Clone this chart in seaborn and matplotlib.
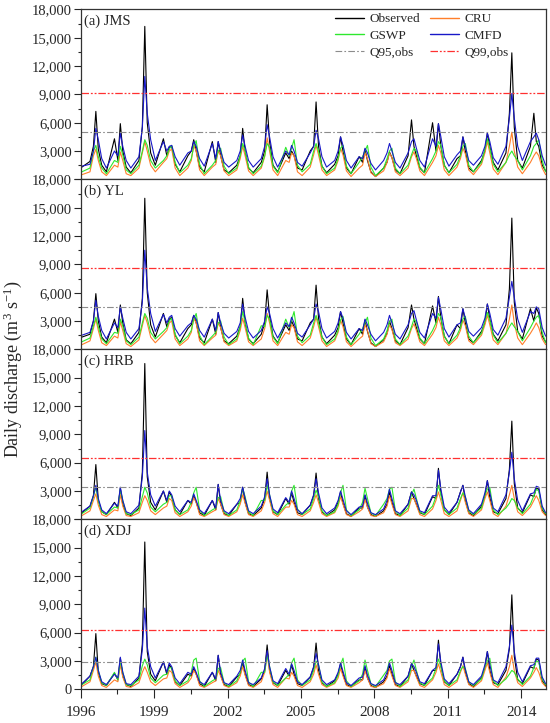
import numpy as np
import pandas as pd
import seaborn as sns
import matplotlib.pyplot as plt
from matplotlib.lines import Line2D
from matplotlib.ticker import MultipleLocator, FuncFormatter, FixedLocator

#### Data (discharge in 1000 m3/s, one row per year, columns at the offsets)

years = list(range(1996, 2015))
offsets = [0.05, 0.38, 0.52, 0.62, 0.72, 0.86]
series_names = ["Observed", "CRU", "GSWP", "CMFD"]
panel_labels = ["(a) JMS", "(b) YL", "(c) HRB", "(d) XDJ"]
q95 = [5000, 4450, 3400, 2860]
q99 = [9100, 8600, 6500, 6250]
year_ticks = [1996, 1999, 2002, 2005, 2008, 2011, 2014]

# (a) JMS
obs_a = [[1.3, 1.9, 3.5, 7.2, 3.2, 1.5], [0.8, 4.3, 2.0, 5.9, 3.0, 1.3], [0.7, 2.0, 5.6, 16.2, 6.0, 2.8],
         [1.5, 4.3, 2.5, 3.4, 3.5, 1.6], [0.8, 2.5, 3.0, 4.2, 3.0, 1.3], [0.8, 4.0, 1.8, 4.0, 2.5, 1.0],
         [0.7, 1.5, 2.5, 5.4, 3.0, 1.2], [0.7, 1.8, 3.0, 7.9, 4.0, 1.5], [0.8, 2.8, 2.2, 3.0, 2.5, 1.2],
         [1.0, 3.0, 3.5, 8.2, 3.5, 1.4], [0.7, 1.6, 2.5, 4.5, 3.0, 1.2], [0.6, 2.4, 1.8, 3.2, 2.0, 0.8],
         [0.3, 1.2, 1.8, 2.9, 2.3, 1.0], [0.6, 2.5, 6.3, 3.5, 2.5, 1.2], [0.7, 6.0, 3.0, 5.9, 3.5, 1.5],
         [0.7, 2.2, 2.5, 4.5, 3.0, 1.2], [0.8, 2.0, 3.0, 4.9, 3.5, 1.8], [1.0, 2.8, 7.0, 13.4, 5.5, 2.0],
         [1.2, 3.5, 7.0, 4.0, 3.5, 1.5]]
cru_a = [[0.5, 0.8, 2.5, 3.2, 2.0, 0.8], [0.4, 1.5, 1.3, 2.9, 2.0, 0.6], [0.4, 1.2, 2.8, 4.0, 3.0, 1.5],
         [0.8, 1.8, 2.2, 3.0, 3.2, 1.2], [0.4, 1.2, 2.0, 3.6, 3.0, 1.0], [0.4, 1.3, 1.6, 3.0, 2.5, 0.9],
         [0.4, 1.0, 2.2, 3.5, 2.5, 0.9], [0.4, 1.2, 2.4, 4.4, 3.0, 1.0], [0.4, 2.0, 1.8, 2.8, 2.5, 0.8],
         [0.4, 1.3, 2.6, 3.6, 2.6, 1.0], [0.4, 1.0, 2.0, 3.3, 2.6, 0.9], [0.3, 1.2, 1.5, 2.8, 2.2, 0.7],
         [0.3, 0.9, 1.8, 2.8, 2.3, 0.8], [0.4, 1.2, 2.4, 2.9, 2.2, 0.9], [0.4, 1.8, 2.5, 3.6, 2.8, 1.0],
         [0.4, 1.3, 2.2, 3.3, 2.7, 1.0], [0.5, 1.6, 2.8, 4.0, 2.8, 1.1], [0.5, 1.8, 3.5, 5.0, 3.0, 1.3],
         [0.6, 1.8, 2.5, 2.9, 2.5, 1.2]]
gswp_a = [[0.8, 1.2, 3.0, 3.6, 2.4, 1.2], [0.6, 2.0, 1.8, 3.5, 2.6, 1.0], [0.6, 1.5, 3.0, 4.2, 3.6, 2.0],
          [1.2, 2.0, 2.5, 3.2, 3.6, 1.8], [0.7, 1.5, 2.2, 3.5, 4.1, 1.6], [0.6, 1.5, 2.0, 3.0, 3.3, 1.4],
          [0.6, 1.2, 2.5, 3.8, 3.0, 1.3], [0.6, 1.4, 2.5, 3.8, 3.4, 1.4], [0.7, 3.4, 2.5, 3.3, 4.2, 1.5],
          [0.8, 1.6, 3.0, 3.8, 3.0, 1.4], [0.6, 1.2, 2.2, 3.3, 3.6, 1.4], [0.6, 1.8, 2.4, 3.0, 3.6, 1.3],
          [0.4, 1.2, 2.2, 3.0, 3.3, 1.2], [0.6, 1.5, 2.6, 3.3, 3.0, 1.3], [0.7, 2.2, 3.0, 4.0, 3.6, 1.5],
          [0.7, 1.6, 2.5, 3.5, 3.8, 1.5], [0.8, 1.8, 3.2, 4.3, 3.3, 1.6], [0.8, 1.8, 2.6, 3.0, 2.5, 2.0],
          [1.0, 2.5, 3.5, 3.8, 4.2, 2.0]]
cmfd_a = [[1.4, 1.6, 3.0, 5.4, 4.2, 2.2], [1.2, 3.0, 2.5, 4.9, 3.5, 2.0], [1.2, 2.4, 5.5, 10.9, 7.0, 4.2],
          [2.0, 4.0, 3.0, 3.5, 3.6, 2.4], [1.5, 2.8, 3.0, 4.0, 3.5, 2.2], [1.4, 3.8, 2.2, 4.0, 3.0, 1.8],
          [1.3, 2.0, 3.0, 4.7, 3.5, 2.0], [1.3, 2.2, 3.5, 5.8, 4.5, 2.4], [1.3, 3.0, 2.6, 3.6, 3.0, 1.8],
          [1.4, 2.8, 3.5, 5.2, 4.3, 2.4], [1.3, 2.0, 3.0, 4.5, 3.6, 2.0], [1.2, 2.4, 2.2, 3.3, 2.8, 1.7],
          [1.0, 2.0, 2.8, 3.8, 3.0, 1.8], [1.2, 2.8, 4.0, 4.3, 3.3, 2.0], [1.3, 4.3, 3.5, 5.9, 4.5, 2.4],
          [1.4, 2.6, 3.0, 4.5, 3.5, 2.0], [1.5, 2.5, 3.5, 4.9, 4.0, 2.3], [1.6, 3.5, 6.5, 9.1, 6.5, 3.5],
          [2.0, 4.0, 4.5, 4.9, 4.2, 2.5]]
end_a = [0.9, 0.5, 0.8, 1.5]

# (b) YL
obs_b = [[1.3, 1.6, 3.0, 5.9, 3.0, 1.3], [0.7, 3.2, 1.8, 4.7, 2.8, 1.0], [0.6, 1.8, 5.4, 16.0, 6.0, 2.6],
         [1.3, 3.8, 2.4, 3.2, 3.4, 1.5], [0.7, 2.2, 2.6, 3.6, 2.8, 1.2], [0.7, 3.2, 1.6, 3.9, 2.3, 0.9],
         [0.6, 1.4, 2.4, 5.4, 2.8, 1.1], [0.6, 1.6, 2.8, 6.3, 3.5, 1.4], [0.7, 2.6, 2.0, 3.0, 2.4, 1.1],
         [0.9, 2.8, 3.2, 6.8, 3.3, 1.3], [0.6, 1.5, 2.3, 4.0, 2.8, 1.1], [0.5, 2.2, 1.6, 3.1, 1.9, 0.7],
         [0.3, 1.0, 1.7, 3.0, 2.2, 0.9], [0.5, 2.3, 4.7, 3.2, 2.3, 1.1], [0.6, 4.6, 2.8, 5.6, 3.3, 1.4],
         [0.6, 2.6, 2.2, 4.3, 2.8, 1.1], [0.7, 1.9, 2.8, 4.8, 3.2, 1.6], [0.9, 2.6, 6.4, 13.9, 5.0, 1.9],
         [1.1, 4.3, 3.0, 4.4, 3.8, 1.4]]
cru_b = [[0.5, 0.9, 2.2, 3.2, 2.0, 0.7], [0.4, 1.4, 1.2, 2.9, 2.0, 0.6], [0.3, 1.0, 2.5, 3.6, 2.8, 1.3],
         [0.7, 1.6, 2.0, 2.8, 3.0, 1.1], [0.4, 1.1, 1.8, 3.3, 2.8, 0.9], [0.4, 1.2, 1.5, 2.8, 2.3, 0.8],
         [0.4, 0.9, 2.0, 3.3, 2.3, 0.8], [0.4, 1.1, 2.2, 3.8, 2.8, 0.9], [0.4, 1.8, 1.6, 2.6, 2.3, 0.8],
         [0.4, 1.2, 2.4, 3.4, 2.4, 0.9], [0.3, 0.9, 1.8, 3.1, 2.4, 0.8], [0.3, 1.1, 1.4, 2.6, 2.0, 0.6],
         [0.3, 0.8, 1.6, 2.6, 2.1, 0.7], [0.4, 1.1, 2.2, 2.7, 2.0, 0.8], [0.4, 1.6, 2.3, 3.4, 2.6, 0.9],
         [0.4, 1.2, 2.0, 3.1, 2.5, 0.9], [0.5, 1.5, 2.6, 3.6, 2.6, 1.0], [0.5, 1.7, 3.2, 4.7, 2.8, 1.2],
         [0.5, 1.7, 2.3, 2.8, 2.3, 1.1]]
gswp_b = [[0.8, 1.2, 2.5, 3.4, 2.4, 1.1], [0.6, 1.8, 1.7, 3.2, 2.5, 0.9], [0.5, 1.3, 2.8, 3.8, 3.3, 1.8],
          [1.1, 1.9, 2.3, 3.0, 3.3, 1.6], [0.6, 1.4, 2.0, 3.2, 3.8, 1.5], [0.5, 1.4, 1.8, 2.8, 3.0, 1.3],
          [0.5, 1.1, 2.4, 4.0, 2.9, 1.2], [0.5, 2.5, 2.4, 3.6, 3.2, 1.3], [0.6, 3.2, 2.3, 3.1, 4.0, 1.4],
          [0.7, 1.5, 2.8, 3.6, 2.8, 1.3], [0.5, 1.1, 2.0, 3.1, 3.5, 1.3], [0.5, 1.6, 2.2, 2.8, 3.4, 1.2],
          [0.4, 1.1, 2.0, 2.9, 3.2, 1.1], [0.5, 1.4, 2.4, 3.2, 2.9, 1.2], [0.6, 2.0, 2.8, 3.8, 3.4, 1.4],
          [0.6, 1.5, 2.3, 3.2, 3.5, 1.4], [0.7, 1.7, 3.0, 3.9, 3.1, 1.5], [0.7, 1.7, 2.4, 2.8, 2.4, 1.9],
          [0.9, 2.3, 3.0, 3.4, 3.6, 1.8]]
cmfd_b = [[1.5, 1.8, 3.0, 5.2, 3.5, 2.0], [1.1, 2.8, 2.3, 4.5, 3.3, 1.8], [1.1, 2.2, 5.0, 10.5, 6.5, 3.8],
          [1.9, 3.7, 2.8, 3.4, 3.6, 2.2], [1.4, 2.5, 2.8, 3.6, 3.2, 2.0], [1.3, 3.2, 2.0, 3.9, 2.8, 1.7],
          [1.2, 1.9, 2.8, 4.8, 3.4, 1.9], [1.2, 2.0, 3.0, 4.5, 3.8, 2.2], [1.2, 2.8, 2.4, 3.4, 2.8, 1.7],
          [1.3, 2.6, 3.2, 4.8, 4.0, 2.2], [1.2, 1.9, 2.8, 4.0, 3.3, 1.8], [1.1, 2.2, 2.0, 3.2, 2.6, 1.6],
          [0.9, 1.8, 2.6, 3.6, 2.8, 1.6], [1.1, 2.6, 3.8, 4.1, 3.1, 1.8], [1.2, 3.8, 3.3, 5.5, 4.2, 2.2],
          [1.3, 2.6, 2.8, 4.3, 3.3, 1.9], [1.4, 2.3, 3.3, 4.8, 3.8, 2.1], [1.5, 3.3, 5.5, 7.2, 5.5, 3.2],
          [1.8, 4.0, 3.8, 4.5, 4.3, 2.3]]
end_b = [0.8, 0.5, 0.7, 1.4]

# (c) HRB
obs_c = [[0.7, 1.4, 2.5, 5.8, 2.0, 0.8], [0.5, 1.8, 1.2, 3.3, 1.6, 0.6], [0.4, 1.2, 5.0, 16.5, 4.5, 1.8],
         [1.0, 3.0, 1.8, 2.9, 2.4, 1.0], [0.5, 2.0, 1.6, 2.5, 1.8, 0.7], [0.4, 2.0, 1.0, 3.7, 1.6, 0.6],
         [0.4, 1.6, 1.8, 3.4, 1.8, 0.6], [0.4, 1.2, 2.2, 5.0, 2.2, 0.8], [0.5, 2.2, 1.6, 2.8, 1.8, 0.7],
         [0.5, 1.5, 2.5, 4.9, 2.2, 0.8], [0.4, 1.0, 1.8, 2.9, 1.7, 0.6], [0.3, 1.2, 1.2, 2.5, 1.3, 0.5],
         [0.3, 0.9, 1.6, 2.9, 1.8, 0.6], [0.4, 1.6, 2.9, 2.2, 1.6, 0.7], [0.5, 2.4, 2.2, 5.4, 2.8, 1.0],
         [0.5, 1.8, 2.9, 3.6, 2.0, 0.7], [0.4, 1.4, 2.5, 4.1, 2.3, 0.8], [0.6, 2.2, 5.3, 10.4, 3.8, 1.2],
         [0.7, 2.6, 2.4, 3.3, 3.2, 1.0]]
cru_c = [[0.4, 0.9, 2.0, 2.7, 1.5, 0.5], [0.3, 1.0, 0.9, 2.6, 1.4, 0.4], [0.3, 0.7, 1.8, 2.5, 2.0, 0.9],
         [0.5, 1.2, 1.4, 2.2, 2.0, 0.7], [0.3, 0.8, 1.4, 2.3, 1.8, 0.5], [0.3, 0.8, 1.0, 2.2, 1.6, 0.5],
         [0.3, 0.8, 1.6, 2.6, 1.7, 0.5], [0.3, 0.9, 1.8, 3.0, 2.0, 0.6], [0.3, 1.3, 1.3, 2.0, 1.6, 0.5],
         [0.3, 0.9, 1.8, 2.6, 1.8, 0.6], [0.3, 0.7, 1.4, 2.4, 1.6, 0.5], [0.3, 0.8, 1.1, 2.1, 1.3, 0.4],
         [0.3, 0.7, 1.4, 2.5, 1.6, 0.5], [0.3, 0.9, 2.2, 2.2, 1.5, 0.5], [0.3, 1.1, 2.0, 2.9, 2.0, 0.6],
         [0.3, 0.9, 2.0, 2.8, 1.8, 0.6], [0.3, 1.0, 2.2, 2.9, 2.0, 0.6], [0.3, 1.4, 2.6, 3.6, 2.2, 0.8],
         [0.4, 1.3, 2.0, 2.5, 2.0, 0.8]]
gswp_c = [[0.6, 1.2, 2.4, 3.4, 2.0, 0.8], [0.5, 1.3, 1.2, 3.2, 2.0, 0.6], [0.5, 1.0, 2.4, 3.4, 2.8, 1.3],
          [0.8, 1.6, 1.8, 2.5, 2.5, 1.0], [0.5, 1.0, 1.8, 2.8, 3.4, 1.0], [0.4, 1.0, 1.2, 2.3, 2.4, 0.8],
          [0.4, 1.0, 2.0, 3.3, 2.4, 0.8], [0.4, 2.0, 2.0, 3.6, 2.6, 0.9], [0.5, 1.5, 1.8, 3.0, 3.6, 1.1],
          [0.5, 1.1, 2.2, 3.1, 2.4, 0.9], [0.4, 0.8, 1.6, 2.8, 3.6, 1.0], [0.4, 1.0, 1.8, 3.3, 2.2, 0.7],
          [0.4, 1.6, 2.2, 3.2, 3.4, 0.9], [0.4, 1.2, 2.6, 3.2, 2.2, 0.8], [0.5, 1.4, 2.4, 3.6, 2.6, 1.0],
          [0.5, 1.2, 2.2, 2.8, 2.4, 0.9], [0.5, 1.2, 2.6, 3.2, 3.4, 1.0], [0.5, 1.2, 1.7, 2.2, 2.0, 1.2],
          [0.6, 1.6, 2.5, 3.2, 3.0, 1.2]]
cmfd_c = [[0.8, 1.4, 2.5, 3.6, 2.2, 1.0], [0.6, 1.7, 1.4, 3.4, 2.0, 0.8], [0.6, 1.5, 4.5, 9.4, 5.0, 2.6],
          [1.4, 3.0, 2.0, 3.0, 2.6, 1.4], [0.8, 2.0, 1.8, 2.7, 2.0, 1.0], [0.6, 2.0, 1.2, 3.7, 2.0, 0.9],
          [0.6, 1.6, 2.2, 3.4, 2.2, 0.9], [0.6, 1.4, 2.4, 4.3, 2.6, 1.1], [0.7, 2.3, 1.8, 3.0, 2.2, 1.0],
          [0.6, 1.5, 2.6, 4.3, 2.8, 1.2], [0.6, 1.2, 2.0, 3.0, 2.1, 0.9], [0.5, 1.3, 1.4, 2.6, 1.7, 0.7],
          [0.5, 1.1, 2.0, 3.2, 2.2, 0.9], [0.6, 1.6, 2.9, 2.6, 2.0, 0.9], [0.7, 2.5, 2.5, 5.2, 3.2, 1.3],
          [0.7, 1.8, 2.9, 3.6, 2.4, 1.0], [0.6, 1.6, 2.8, 4.1, 2.8, 1.2], [0.8, 2.6, 5.0, 7.1, 4.3, 2.0],
          [0.9, 2.7, 2.8, 3.5, 3.4, 1.4]]
end_c = [0.5, 0.4, 0.6, 0.7]

# (d) XDJ
obs_d = [[0.5, 1.4, 2.4, 5.9, 1.8, 0.6], [0.4, 1.7, 1.0, 3.3, 1.4, 0.5], [0.3, 1.2, 4.8, 15.6, 4.0, 1.6],
         [0.9, 2.9, 1.6, 2.6, 2.2, 0.8], [0.4, 1.6, 1.4, 2.2, 1.6, 0.6], [0.3, 1.8, 0.9, 3.6, 1.5, 0.5],
         [0.3, 1.3, 1.6, 2.9, 1.6, 0.5], [0.3, 1.1, 2.0, 4.7, 2.0, 0.7], [0.4, 2.0, 1.4, 2.6, 1.6, 0.6],
         [0.4, 1.3, 2.3, 4.9, 2.0, 0.7], [0.3, 0.9, 1.6, 2.7, 1.6, 0.5], [0.3, 1.0, 1.0, 2.3, 1.2, 0.4],
         [0.2, 0.8, 1.4, 2.5, 1.6, 0.5], [0.3, 1.4, 2.7, 2.0, 1.4, 0.6], [0.4, 2.0, 2.0, 5.2, 2.5, 0.8],
         [0.4, 1.6, 2.4, 3.4, 1.8, 0.6], [0.3, 1.2, 2.3, 4.0, 2.0, 0.7], [0.5, 2.0, 4.3, 10.0, 3.5, 1.0],
         [0.6, 2.4, 2.2, 3.2, 3.1, 0.9]]
cru_d = [[0.3, 0.8, 2.0, 2.9, 1.4, 0.4], [0.2, 1.0, 0.8, 2.6, 1.3, 0.3], [0.2, 0.7, 1.8, 2.4, 1.8, 0.8],
         [0.4, 1.1, 1.2, 2.0, 1.8, 0.6], [0.2, 0.7, 1.2, 2.0, 1.6, 0.4], [0.2, 0.7, 0.9, 2.0, 1.4, 0.4],
         [0.2, 0.7, 1.4, 2.4, 1.5, 0.4], [0.2, 0.8, 1.8, 3.8, 1.8, 0.5], [0.2, 1.2, 1.1, 1.8, 1.4, 0.4],
         [0.2, 0.8, 1.6, 2.6, 1.6, 0.5], [0.2, 0.6, 1.2, 2.2, 1.4, 0.4], [0.2, 0.7, 1.0, 2.0, 1.2, 0.3],
         [0.2, 0.6, 1.2, 2.2, 1.4, 0.4], [0.2, 0.8, 2.0, 2.0, 1.3, 0.4], [0.2, 1.0, 1.8, 2.7, 1.8, 0.5],
         [0.2, 0.8, 1.8, 2.5, 1.6, 0.5], [0.2, 0.9, 2.0, 2.8, 1.8, 0.5], [0.2, 1.3, 2.4, 3.6, 2.0, 0.7],
         [0.3, 1.2, 1.8, 2.3, 1.8, 0.7]]
gswp_d = [[0.5, 1.0, 2.4, 3.4, 2.0, 0.7], [0.4, 1.8, 1.0, 3.0, 1.8, 0.5], [0.4, 1.0, 2.5, 3.2, 2.6, 1.2],
          [0.7, 1.5, 1.6, 2.3, 2.3, 0.9], [0.4, 0.9, 1.8, 3.1, 3.3, 0.9], [0.3, 0.9, 1.1, 2.2, 2.3, 0.7],
          [0.3, 0.9, 1.8, 3.0, 3.3, 0.8], [0.3, 1.8, 1.8, 3.6, 2.4, 0.8], [0.4, 1.2, 1.6, 2.8, 3.3, 1.0],
          [0.4, 1.0, 2.0, 3.0, 2.6, 0.8], [0.3, 0.7, 1.5, 2.6, 3.3, 0.9], [0.3, 0.9, 1.6, 3.1, 2.0, 0.6],
          [0.3, 1.5, 2.0, 3.0, 3.2, 0.8], [0.3, 1.0, 2.4, 3.1, 2.0, 0.7], [0.4, 1.2, 2.2, 3.2, 2.4, 0.9],
          [0.4, 1.0, 2.0, 2.4, 2.2, 0.8], [0.4, 1.1, 2.4, 3.0, 3.3, 0.9], [0.4, 1.1, 1.6, 2.0, 1.8, 1.1],
          [0.5, 1.4, 2.3, 3.0, 2.9, 1.1]]
cmfd_d = [[0.6, 1.4, 2.4, 3.4, 2.0, 0.8], [0.5, 1.6, 1.2, 3.4, 1.8, 0.6], [0.5, 1.4, 4.2, 8.6, 4.5, 2.4],
          [1.2, 2.9, 1.8, 2.8, 2.4, 1.2], [0.6, 1.8, 1.6, 2.4, 1.8, 0.8], [0.5, 1.8, 1.1, 3.6, 1.8, 0.7],
          [0.5, 1.4, 2.0, 3.1, 2.0, 0.7], [0.5, 1.2, 2.2, 4.1, 2.4, 0.9], [0.6, 2.2, 1.6, 2.7, 2.0, 0.8],
          [0.5, 1.3, 2.4, 3.8, 2.6, 1.0], [0.5, 1.0, 1.8, 2.8, 1.9, 0.7], [0.4, 1.2, 1.3, 2.5, 1.5, 0.6],
          [0.4, 1.0, 1.8, 2.8, 2.0, 0.7], [0.5, 1.4, 2.7, 2.4, 1.8, 0.8], [0.6, 2.0, 2.3, 4.8, 2.9, 1.1],
          [0.6, 1.6, 2.4, 3.4, 2.1, 0.8], [0.5, 1.4, 2.6, 4.0, 2.6, 1.0], [0.7, 2.4, 4.5, 6.8, 4.0, 1.8],
          [0.8, 2.5, 2.6, 3.3, 3.3, 1.3]]
end_d = [0.4, 0.3, 0.5, 0.6]

panels = [
    ([obs_a, cru_a, gswp_a, cmfd_a], end_a),
    ([obs_b, cru_b, gswp_b, cmfd_b], end_b),
    ([obs_c, cru_c, gswp_c, cmfd_c], end_c),
    ([obs_d, cru_d, gswp_d, cmfd_d], end_d),
]

colors = {"Observed": "#000000", "CRU": "#FF7F2A", "GSWP": "#2EE82E", "CMFD": "#1818C8"}
q95_style = dict(color="#8C8C8C", lw=0.8, ls=(0, (6, 2, 1.5, 2)))
q99_style = dict(color="#FF3030", lw=0.9, ls=(0, (6, 1.5, 1.5, 1.5, 1.5, 1.5)))


def panel_frame(rows_by_name, end_vals):
    recs = []
    for name, rows, last in zip(series_names, rows_by_name, end_vals):
        for yr, row in zip(years, rows):
            for off, v in zip(offsets, row):
                recs.append((yr + off, v * 1000, name))
        recs.append((2015.0, last * 1000, name))
    return pd.DataFrame(recs, columns=["year", "Q", "source"])


#### Plot

sns.set_style("ticks")
plt.rcParams["font.family"] = ["Liberation Serif", "DejaVu Serif"]
plt.rcParams["mathtext.fontset"] = "custom"
plt.rcParams["mathtext.rm"] = "Liberation Serif"
plt.rcParams["mathtext.it"] = "Liberation Serif:italic"

fig, axes = plt.subplots(4, 1, figsize=(5.5, 7.23), dpi=100, sharex=True)
fig.subplots_adjust(left=0.1467, right=0.992, bottom=0.0466, top=0.987, hspace=0)

for i, (ax, (rows, ends)) in enumerate(zip(axes, panels)):
    df = panel_frame(rows, ends)
    sns.lineplot(data=df, x="year", y="Q", hue="source", hue_order=series_names,
                 palette=colors, estimator=None, sort=False, lw=0.8,
                 legend=False, ax=ax)
    ax.axhline(q95[i], **q95_style)
    ax.axhline(q99[i], **q99_style)

    ax.set_xlim(1996, 2015)
    ax.set_ylim(0, 18000)
    ax.set_xlabel("")
    ax.set_ylabel("")
    ax.yaxis.set_major_locator(MultipleLocator(3000))
    ax.yaxis.set_minor_locator(MultipleLocator(1500))
    hide_zero = i < 3
    ax.yaxis.set_major_formatter(FuncFormatter(
        lambda v, p, hz=hide_zero: "" if (hz and v == 0) else f"{int(v):,}"))
    ax.tick_params(axis="y", which="major", direction="out", length=5, width=0.8,
                   labelsize=10.5, pad=1.5)
    ax.tick_params(axis="y", which="minor", direction="out", length=2.5, width=0.8)
    for s in ax.spines.values():
        s.set_linewidth(0.9)
        s.set_color("#333333")
    ax.text(0.008, 0.972, panel_labels[i], transform=ax.transAxes,
            ha="left", va="top", fontsize=10.5)

    if i < 3:
        ax.tick_params(axis="x", which="both", length=0)

bottom = axes[-1]
bottom.xaxis.set_major_locator(FixedLocator(year_ticks))
bottom.xaxis.set_minor_locator(FixedLocator([y + 1.5 for y in year_ticks]))
bottom.xaxis.set_major_formatter(FuncFormatter(lambda v, p: f"{int(round(v))}"))
bottom.tick_params(axis="x", which="major", direction="out", length=6.5, width=0.8,
                   labelsize=11, pad=5.5)
bottom.tick_params(axis="x", which="minor", direction="out", length=3.5, width=0.8)

handles = [
    Line2D([], [], color=colors["Observed"], lw=1.0, label="Observed"),
    Line2D([], [], color=colors["GSWP"], lw=1.0, label="GSWP"),
    Line2D([], [], label="Q95,obs", **q95_style),
    Line2D([], [], color=colors["CRU"], lw=1.0, label="CRU"),
    Line2D([], [], color=colors["CMFD"], lw=1.0, label="CMFD"),
    Line2D([], [], label="Q99,obs", **q99_style),
]
axes[0].legend(handles=handles, loc="upper left", bbox_to_anchor=(0.541, 0.995),
               ncol=2, frameon=False, fontsize=9.5, handlelength=2.2,
               handletextpad=0.4, columnspacing=0.8, labelspacing=0.35,
               borderpad=0.2, borderaxespad=0)

fig.text(0.024, 0.49, r"Daily discharge (m$^{3}$ s$^{-1}$)", rotation=90,
         ha="center", va="center", fontsize=13)

fig.savefig("out.png", dpi=100)
